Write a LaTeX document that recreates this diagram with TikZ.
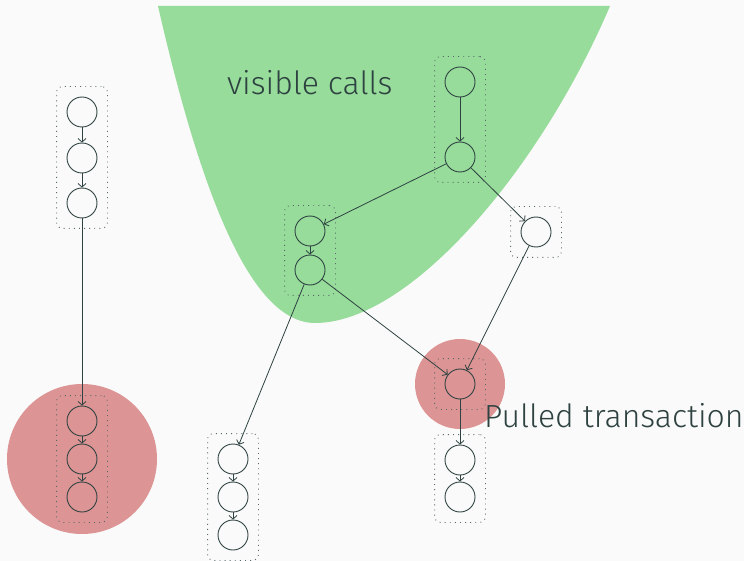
\documentclass[tikz,border=0pt]{standalone}
\usepackage{fontspec}
\setmainfont{Fira Sans Light}
\usetikzlibrary{fit,arrows.meta}
\definecolor{bgcol}{HTML}{FAFAFA}
\definecolor{inkcol}{HTML}{2E4241}
\definecolor{seen}{HTML}{97DC9A}
\definecolor{pulled}{HTML}{DC9494}
\tikzset{
  call/.style={circle,draw=inkcol,line width=0.9pt,minimum size=30pt,inner sep=0pt},
  frame/.style={draw=inkcol!80,rounded corners=6pt,line width=0.9pt,
    dash pattern=on 0.9pt off 4.2pt,inner sep=10pt},
  link/.style={-{Straight Barb[length=3.5pt,width=8pt]},draw=inkcol,line width=0.8pt},
  caption/.style={text=inkcol,font=\fontsize{32}{38}\selectfont,inner sep=0pt,anchor=base west}}

\begin{document}
\begin{tikzpicture}[x=1pt,y=-1pt]
\useasboundingbox[fill=bgcol] (0,0) rectangle (744,561);
% visible area and pulled ones
\fill [seen] (158,6) .. controls (200,190) and (250,323) .. (315,323)
  .. controls (410,323) and (540,170) .. (610,6) -- cycle;
\fill [pulled] (82,459) circle (75);
\fill [pulled] (460,384) circle (45);
\node [caption] (vis) at (227,95) {visible calls};
\node [caption] (pul) at (484,427) {Pulled transaction};
% calls
\node [call] (a1) at (82,112) {};
\node [call] (a2) at (82,158) {};
\node [call] (a3) at (82,203) {};
\node [call] (b1) at (82,421) {};
\node [call] (b2) at (82,459) {};
\node [call] (b3) at (82,497) {};
\node [call] (t1) at (460,82) {};
\node [call] (t2) at (460,157) {};
\node [call] (m1) at (310,231) {};
\node [call] (m2) at (310,270) {};
\node [call] (r1) at (536,232) {};
\node [call] (p1) at (460,384) {};
\node [call] (q1) at (460,460) {};
\node [call] (q2) at (460,497) {};
\node [call] (c1) at (233,459) {};
\node [call] (c2) at (233,497) {};
\node [call] (c3) at (233,535) {};
% transactions
\node [frame,fit=(a1)(a3)] (fa) {};
\node [frame,fit=(b1)(b3)] (fb) {};
\node [frame,fit=(t1)(t2)] (ft) {};
\node [frame,fit=(m1)(m2)] (fm) {};
\node [frame,fit=(r1)] (fr) {};
\node [frame,fit=(p1)] (fp) {};
\node [frame,fit=(q1)(q2)] (fq) {};
\node [frame,fit=(c1)(c3)] (fc) {};
% links
\draw [link] (a1) -- (a2);
\draw [link] (a2) -- (a3);
\draw [link] (a3) -- (b1);
\draw [link] (b1) -- (b2);
\draw [link] (b2) -- (b3);
\draw [link] (t1) -- (t2);
\draw [link] (t2) -- (m1);
\draw [link] (t2) -- (r1);
\draw [link] (m1) -- (m2);
\draw [link] (m2) -- (p1);
\draw [link] (m2) -- (c1);
\draw [link] (r1) -- (p1);
\draw [link] (p1) -- (q1);
\draw [link] (q1) -- (q2);
\draw [link] (c1) -- (c2);
\draw [link] (c2) -- (c3);
\end{tikzpicture}
\end{document}
